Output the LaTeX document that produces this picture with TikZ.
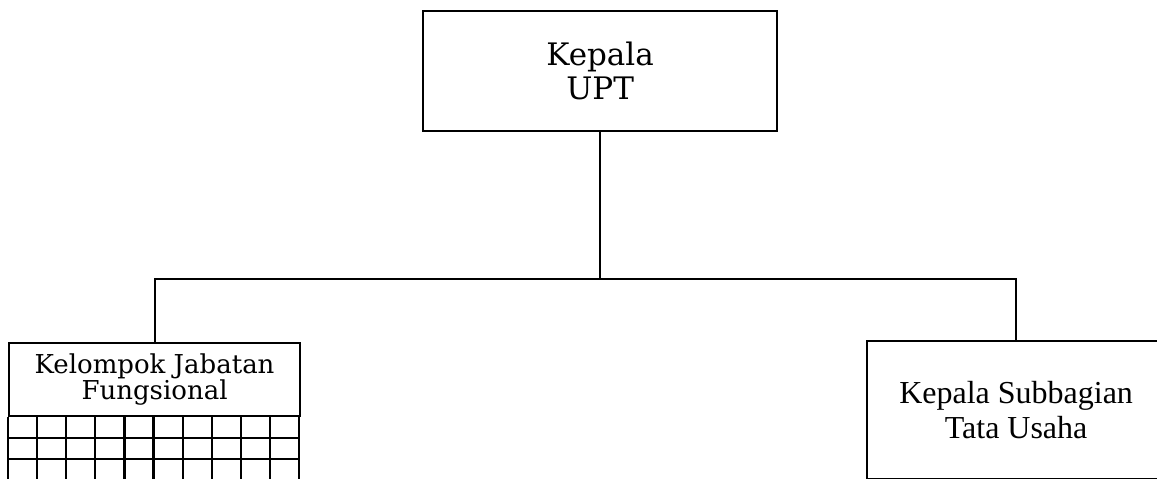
\documentclass[tikz,border=0pt]{standalone}
\usepackage{fontspec}
\setmainfont{Liberation Serif}
\newfontfamily\slabfont{DejaVu Serif}
\usetikzlibrary{calc}

\begin{document}
\begin{tikzpicture}[x=1pt,y=-1pt,
  box/.style={draw,line width=2.2pt,inner sep=0pt,align=center,anchor=north west},
  rule/.style={line width=2.2pt}]
\useasboundingbox (0,0) rectangle (1157,479);

% Boxes
\node[box,minimum width=354pt,minimum height=120pt,
  font=\slabfont\fontsize{31}{34}\selectfont] (kepala) at (422,10) {Kepala\\UPT};
\node[box,minimum width=291pt,minimum height=73pt,
  font=\slabfont\fontsize{26}{25}\selectfont] (kjf) at (8,342) {Kelompok Jabatan\\Fungsional};
\node[box,minimum width=298pt,minimum height=138pt,
  font=\fontsize{32}{35}\selectfont] (kts) at (866,340) {Kepala Subbagian\\Tata Usaha};

% Grid under the functional group
\foreach \i in {0,...,10}
  \draw[rule] ($(kjf.south west)+(\i*29.1,0)$) -- ++(0,63);
\foreach \j in {1,2,3}
  \draw[rule] ($(kjf.south west)+(0,\j*21)$) -- ++(291,0);

% Lines
\coordinate (split) at ($(kepala.south)+(0,147)$);
\draw[rule] (kepala.south) -- (split);
\draw[rule] (kjf.north) |- (split) -| (kts.north);
\end{tikzpicture}
\end{document}
